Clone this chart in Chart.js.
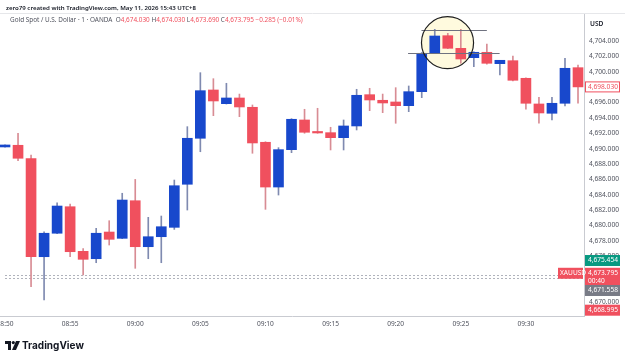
<!DOCTYPE html>
<html>
<head>
<meta charset="utf-8">
<script src="https://cdn.jsdelivr.net/npm/chart.js@4.4.1/dist/chart.umd.min.js"></script>
<style>
    body { margin: 0; background: #fff; }
    #wrap { position: relative; width: 625px; height: 362px; overflow: hidden; font-family: "Noto Sans", sans-serif; }
    canvas { position: absolute; left: 0; top: 0; }
    .hdr1 { position: absolute; left: 6px; top: 3px; font-size: 6.1px; font-weight: 600; color: #131722; white-space: nowrap; }
    .hdr2 { position: absolute; left: 10px; top: 15px; font-size: 6.4px; color: #50535e; white-space: nowrap; }
    .hdr2 .v { color: #f0505e; }
    .logo { position: absolute; left: 5px; top: 339px; font-family: Inter, sans-serif; font-size: 10px; font-weight: 700; color: #131722; white-space: nowrap; }
    .logo svg { vertical-align: -1px; margin-right: 2px; }
</style>
</head>
<body>
<div id="wrap">
    <canvas id="candles" width="625" height="362"></canvas>
    <div class="hdr1">zero79 created with TradingView.com, May 11, 2026 15:43 UTC+8</div>
    <div class="hdr2">Gold Spot / U.S. Dollar · 1 · OANDA&nbsp; O<span class="v">4,674.030</span> H<span class="v">4,674.030</span> L<span class="v">4,673.690</span> C<span class="v">4,673.795</span> <span class="v">−0.285 (−0.01%)</span></div>
    <div class="logo"><svg width="15" height="9" viewBox="0 0 15 9"><path d="M0 0h6v9H3V3H0z" fill="#131722"/><circle cx="8.3" cy="1.6" r="1.6" fill="#131722"/><path d="M11 0h4l-4 9H7z" fill="#131722"/></svg>TradingView</div>
</div>
<script>
    // 1-минутные свечи XAUUSD
    var times = ['08:50','08:51','08:52','08:53','08:54','08:55','08:56','08:57','08:58','08:59',
        '09:00','09:01','09:02','09:03','09:04','09:05','09:06','09:07','09:08','09:09',
        '09:10','09:11','09:12','09:13','09:14','09:15','09:16','09:17','09:18','09:19',
        '09:20','09:21','09:22','09:23','09:24','09:25','09:26','09:27','09:28','09:29',
        '09:30','09:31','09:32','09:33','09:34'];
    var opens = [4690.22,4690.44,4688.70,4675.95,4679.00,4682.45,4676.65,4675.69,4679.16,4678.34,
        4683.23,4677.25,4678.55,4679.77,4685.37,4691.35,4697.63,4695.85,4696.59,4695.38,
        4690.83,4685.01,4689.87,4693.73,4692.17,4692.08,4691.43,4692.95,4697.02,4696.29,
        4696.07,4695.59,4697.41,4702.40,4704.69,4703.05,4701.83,4702.53,4701.05,4701.44,
        4699.15,4695.81,4694.60,4695.90,4700.53];
    var highs = [4690.50,4692.00,4689.18,4679.20,4682.97,4682.80,4677.00,4679.64,4680.63,4684.20,
        4686.00,4681.07,4681.24,4685.92,4692.86,4699.88,4699.10,4698.50,4697.10,4695.68,
        4690.90,4690.13,4693.90,4695.12,4695.25,4692.78,4693.73,4697.72,4697.85,4697.10,
        4697.93,4698.15,4702.50,4705.52,4705.00,4705.52,4702.60,4703.61,4701.50,4702.05,
        4699.20,4696.68,4696.68,4701.75,4700.88];
    var lows = [4690.20,4688.43,4672.05,4670.32,4678.95,4675.95,4673.57,4675.17,4677.47,4678.30,
        4674.44,4675.69,4675.17,4679.50,4682.02,4689.60,4694.29,4695.80,4694.16,4689.40,
        4682.11,4683.97,4689.48,4692.00,4692.00,4689.83,4689.83,4692.43,4694.94,4694.68,
        4693.30,4694.81,4696.63,4702.35,4703.00,4701.10,4700.66,4701.00,4699.58,4698.80,
        4695.12,4693.30,4693.73,4695.55,4695.90];
    var closes = [4690.48,4688.75,4675.95,4679.00,4682.54,4676.60,4675.61,4679.00,4678.21,4683.32,
        4677.25,4678.55,4679.85,4685.18,4691.35,4697.54,4696.20,4696.59,4695.42,4690.74,
        4685.01,4689.87,4693.82,4692.13,4692.04,4691.43,4692.95,4696.94,4696.33,4695.94,
        4695.59,4697.41,4702.40,4704.65,4703.05,4701.66,4702.53,4701.10,4701.49,4698.89,
        4695.90,4694.64,4695.90,4700.45,4698.03];

    var timeTicks = [0, 5, 10, 15, 20, 25, 30, 35, 40];
    var priceTicks = [4670, 4672, 4674, 4676, 4678, 4680, 4682, 4684, 4686, 4688,
        4690, 4692, 4694, 4696, 4698, 4700, 4702, 4704];

    // метки на шкале цены
    var priceLabels = [
        {price: 4698.03, text: ['4,698.030'], bg: '#ffffff', fg: '#f0505e', border: '#f0505e'},
        {price: 4675.454, text: ['4,675.454'], bg: '#089981', fg: '#ffffff'},
        {price: 4673.795, text: ['4,673.795', '00:40'], bg: '#f0505e', fg: '#ffffff'},
        {price: 4671.558, text: ['4,671.558'], bg: '#787b86', fg: '#ffffff'},
        {price: 4668.995, text: ['4,668.995'], bg: '#f0505e', fg: '#ffffff'}
    ];
    var dashedLevels = [4673.6, 4673.2];

    // рисунки: круг и две горизонтали
    var circleMark = {i: 33.98, price: 4703.78, ri: 2.0, rp: 3.38};
    var hLines = [
        {from: 31.98, to: 37.0, price: 4705.47},
        {from: 30.95, to: 37.98, price: 4702.44}
    ];

    var upColor = '#1848cc';
    var downColor = '#f0505e';

    var bodies = [], wicks = [], bodyColors = [], wickColors = [];
    times.forEach(function (t, i) {
        bodies.push({x: i, y: [opens[i], closes[i]]});
        wicks.push({x: i, y: [lows[i], highs[i]]});
        var up = closes[i] >= opens[i];
        bodyColors.push(up ? upColor : downColor);
        wickColors.push(up ? '#7f8ab0' : '#d88c94');
    });

    function fmt(v) {
        return v.toLocaleString('en-US', {minimumFractionDigits: 3, maximumFractionDigits: 3});
    }

    var drawings = {
        id: 'drawings',
        beforeDatasetsDraw: function (chart) {
            var ctx = chart.ctx, x = chart.scales.x, y = chart.scales.y;
            var a = chart.chartArea;
            ctx.save();
            // пунктирные уровни
            ctx.strokeStyle = '#b0b3bc';
            ctx.lineWidth = 1;
            ctx.setLineDash([2, 2]);
            dashedLevels.forEach(function (p) {
                var py = Math.round(y.getPixelForValue(p)) + 0.5;
                ctx.beginPath();
                ctx.moveTo(a.left + 5, py);
                ctx.lineTo(a.right, py);
                ctx.stroke();
            });
            ctx.setLineDash([]);
            // заливка круга
            var cx = x.getPixelForValue(circleMark.i), cy = y.getPixelForValue(circleMark.price);
            var rx = x.getPixelForValue(circleMark.i + circleMark.ri) - cx;
            var ry = cy - y.getPixelForValue(circleMark.price + circleMark.rp);
            ctx.fillStyle = 'rgba(255, 246, 200, 0.6)';
            ctx.beginPath();
            ctx.ellipse(cx, cy, rx, ry, 0, 0, Math.PI * 2);
            ctx.fill();
            ctx.restore();
        },
        afterDatasetsDraw: function (chart) {
            var ctx = chart.ctx, x = chart.scales.x, y = chart.scales.y;
            ctx.save();
            ctx.strokeStyle = '#6f7280';
            ctx.lineWidth = 1;
            hLines.forEach(function (l) {
                var py = Math.round(y.getPixelForValue(l.price)) + 0.5;
                ctx.beginPath();
                ctx.moveTo(x.getPixelForValue(l.from), py);
                ctx.lineTo(x.getPixelForValue(l.to), py);
                ctx.stroke();
            });
            var cx = x.getPixelForValue(circleMark.i), cy = y.getPixelForValue(circleMark.price);
            var rx = x.getPixelForValue(circleMark.i + circleMark.ri) - cx;
            var ry = cy - y.getPixelForValue(circleMark.price + circleMark.rp);
            ctx.strokeStyle = '#1f1f1f';
            ctx.lineWidth = 1.2;
            ctx.beginPath();
            ctx.ellipse(cx, cy, rx, ry, 0, 0, Math.PI * 2);
            ctx.stroke();
            ctx.restore();
        },
        afterDraw: function (chart) {
            var ctx = chart.ctx, y = chart.scales.y, a = chart.chartArea;
            ctx.save();
            // верхняя граница
            ctx.strokeStyle = '#e6e7ea';
            ctx.lineWidth = 1;
            ctx.beginPath();
            ctx.moveTo(0, a.top + 0.5);
            ctx.lineTo(625, a.top + 0.5);
            ctx.stroke();
            ctx.font = '600 6.6px "Noto Sans"';
            ctx.fillStyle = '#131722';
            ctx.textBaseline = 'middle';
            ctx.fillText('USD', a.right + 6, 24);
            // ярлыки цен
            ctx.font = '6.6px "Noto Sans"';
            priceLabels.forEach(function (p) {
                var py = y.getPixelForValue(p.price);
                var h = 11 + (p.text.length - 1) * 8;
                var top = py - 5.5;
                ctx.fillStyle = p.bg;
                ctx.fillRect(a.right + 1, top, 35, h);
                if (p.border) {
                    ctx.strokeStyle = p.border;
                    ctx.strokeRect(a.right + 1.5, top + 0.5, 34, h - 1);
                }
                ctx.fillStyle = p.fg;
                p.text.forEach(function (t, k) {
                    ctx.fillText(t, a.right + 4, py + k * 8);
                });
            });
            // ярлык XAUUSD
            var py = y.getPixelForValue(4673.795);
            ctx.fillStyle = '#f0505e';
            ctx.fillRect(a.right - 26, py - 5.5, 25, 11);
            ctx.fillStyle = '#ffffff';
            ctx.fillText('XAUUSD', a.right - 24, py);
            ctx.restore();
        }
    };

    var ctx = document.getElementById('candles');

    var bodyData = {
        data: bodies,
        backgroundColor: bodyColors,
        barThickness: 10,
        minBarLength: 1.5,
        grouped: false,
        order: 0
    };

    var wickData = {
        data: wicks,
        backgroundColor: wickColors,
        barThickness: 1,
        grouped: false,
        order: 1
    };

    var chart = new Chart(ctx, {
        type: 'bar',
        data: {datasets: [bodyData, wickData]},
        options: {
            responsive: false,
            animation: false,
            layout: {padding: {top: 13, bottom: 26, left: 0, right: 0}},
            plugins: {legend: {display: false}, tooltip: {enabled: false}},
            scales: {
                x: {
                    type: 'linear',
                    offset: false,
                    min: -0.385,
                    max: 44.46,
                    grid: {display: false, drawTicks: false, offset: false},
                    border: {color: '#c9cbd1', width: 1},
                    ticks: {
                        padding: 4,
                        color: '#50535e',
                        font: {family: 'Noto Sans', size: 6.6},
                        maxRotation: 0,
                        autoSkip: false,
                        callback: function (v) { return times[v]; }
                    },
                    afterBuildTicks: function (s) {
                        s.ticks = timeTicks.map(function (v) { return {value: v}; });
                    },
                    afterFit: function (s) {
                        s.height = 20;
                        s.paddingLeft = 0;
                        s.paddingRight = 0;
                    }
                },
                y: {
                    position: 'right',
                    min: 4668.24,
                    max: 4707.64,
                    grid: {display: false, drawTicks: false},
                    border: {color: '#c9cbd1', width: 1},
                    ticks: {
                        padding: 5,
                        color: '#50535e',
                        font: {family: 'Noto Sans', size: 6.6},
                        callback: function (v) { return fmt(v); }
                    },
                    afterBuildTicks: function (s) {
                        s.ticks = priceTicks.map(function (v) { return {value: v}; });
                    },
                    afterFit: function (s) { s.width = 41; }
                }
            }
        },
        plugins: [drawings]
    });
</script>
</body>
</html>
